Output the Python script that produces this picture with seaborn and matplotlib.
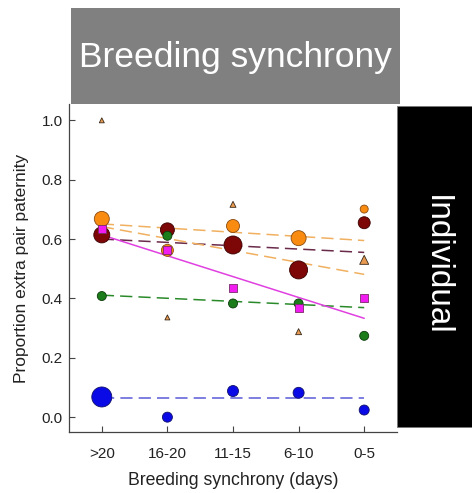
import numpy as np
import pandas as pd
import matplotlib
matplotlib.use("Agg")
import matplotlib.pyplot as plt
from matplotlib.patches import Rectangle
import seaborn as sns

# ---- data ----
categories = [">20", "16-20", "11-15", "6-10", "0-5"]
xpos = [0, 1, 2, 3, 4]

blue_y = [0.068, 0.0, 0.088, 0.082, 0.024]
blue_r = [10, 5, 5.5, 5.5, 5]
green_y = [0.408, 0.611, 0.383, 0.383, 0.274]
green_r = [4.5, 4.5, 4.5, 4.5, 4.5]
magenta_y = [0.633, 0.562, 0.434, 0.367, 0.402]
magenta_r = [4, 4, 4, 4, 4]
orange_y = [0.668, 0.562, 0.644, 0.603, 0.701]
orange_r = [7.5, 6, 6.5, 7.5, 4]
darkred_y = [0.614, 0.631, 0.580, 0.496, 0.655]
darkred_r = [8, 7, 9, 9, 6]
tri_y = [1.0, 0.336, 0.717, 0.288, 0.530]
tri_r = [2.5, 2.5, 3, 3, 4.5]

# fitted trend lines: value at >20 and at 0-5
blue_trend = [0.065, 0.065]
green_trend = [0.411, 0.369]
magenta_trend = [0.614, 0.333]
orange_trend = [0.651, 0.595]
darkred_trend = [0.600, 0.555]
tri_trend = [0.642, 0.481]

yticks = [0.0, 0.2, 0.4, 0.6, 0.8, 1.0]

# ---- figure ----
sns.set_style("ticks")
plt.rcParams["font.family"] = ["Liberation Sans", "DejaVu Sans"]

W, H = 472, 493
fig = plt.figure(figsize=(W / 100, H / 100), dpi=100)

ax_l, ax_r, ax_t, ax_b = 69, 397, 104, 432
ax = fig.add_axes([ax_l / W, 1 - ax_b / H, (ax_r - ax_l) / W, (ax_b - ax_t) / H])

PX2PT = 72 / 100.0


def area(r):
    return (2 * r * PX2PT) ** 2


series = [
    ("blue", blue_y, blue_r, "o", "#0a0ae6", "#10106a", blue_trend, "#5a5ad8", (8, 4)),
    ("darkred", darkred_y, darkred_r, "o", "#7d0606", "#3a0000", darkred_trend, "#6a2a4a", (8, 4)),
    ("orange", orange_y, orange_r, "o", "#f98c10", "#8a4a10", orange_trend, "#f0b060", (8, 4)),
    ("green", green_y, green_r, "o", "#1a7d1a", "#0a3a0a", green_trend, "#2a8a2a", (8, 4)),
    ("magenta", magenta_y, magenta_r, "s", "#f01cf0", "#7a2a6a", magenta_trend, "#e040e0", None),
    ("tri", tri_y, tri_r, "^", "#e89a50", "#3a2a1a", tri_trend, "#f0b060", (8, 4)),
]

# trend lines
for name, ys, rs, mk, fc, ec, trend, lc, dash in series:
    ldf = pd.DataFrame({"x": [xpos[0], xpos[-1]], "y": trend})
    if dash is None:
        sns.lineplot(data=ldf, x="x", y="y", ax=ax, color=lc, lw=1.1, zorder=2)
    else:
        sns.lineplot(data=ldf, x="x", y="y", ax=ax, color=lc, lw=1.1, dashes=False,
                     linestyle=(0, dash), zorder=2)

# points
for name, ys, rs, mk, fc, ec, trend, lc, dash in series:
    df = pd.DataFrame({"x": xpos, "y": ys, "r": rs})
    sizes = {r: area(r) for r in sorted(set(rs))}
    sns.scatterplot(data=df, x="x", y="y", size="r", sizes=sizes, marker=mk,
                    color=fc, edgecolor=ec, linewidth=0.6, ax=ax, legend=False, zorder=3)

ax.set_xlim(-0.5, 4.5)
ax.set_ylim(-0.05, 1.055)
ax.set_xticks(xpos)
ax.set_xticklabels(categories, fontsize=11, color="#222222")
ax.set_yticks(yticks)
ax.set_yticklabels([f"{v:.1f}" for v in yticks], fontsize=11, color="#222222")
ax.set_xlabel("Breeding synchrony (days)", fontsize=12.7, color="#222222", labelpad=8)
ax.set_ylabel("Proportion extra pair paternity", fontsize=12.5, color="#222222", labelpad=9)
ax.tick_params(axis="both", direction="in", length=4, width=0.8, color="#444444")
ax.tick_params(axis="x", pad=10.5)
ax.tick_params(axis="y", pad=4.5)
for s in ["top", "right"]:
    ax.spines[s].set_visible(False)
for s in ["left", "bottom"]:
    ax.spines[s].set_color("#444444")
    ax.spines[s].set_linewidth(0.9)

# grey header box
fig.patches.append(Rectangle((71 / W, 1 - 104 / H), (400 - 71) / W, (104 - 8) / H,
                             transform=fig.transFigure, facecolor="#808080",
                             edgecolor="none", zorder=5))
fig.text((71 + 400) / 2 / W, 1 - 58 / H, "Breeding synchrony", color="white",
         fontsize=25.5, ha="center", va="center", zorder=6)

# black side box
fig.patches.append(Rectangle((397 / W, 1 - 427 / H), (472 - 397) / W, (427 - 106) / H,
                             transform=fig.transFigure, facecolor="black",
                             edgecolor="#777777", linewidth=0.6, zorder=5))
fig.text(436 / W, 1 - 265 / H, "Individual", color="white", fontsize=24,
         rotation=-90, ha="center", va="center", zorder=6)

fig.savefig("out.png", dpi=100)
